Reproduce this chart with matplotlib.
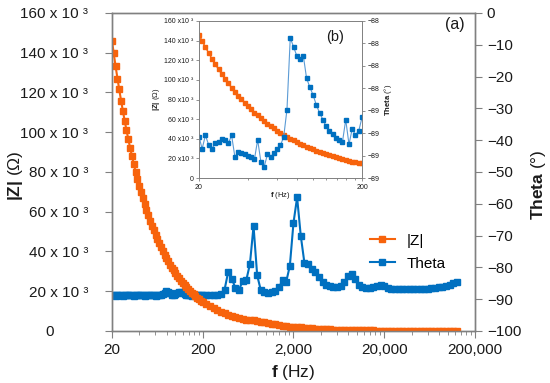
import matplotlib
matplotlib.use('Agg')
import matplotlib.pyplot as plt
from matplotlib.ticker import FixedLocator, LogLocator, FuncFormatter, NullFormatter

plt.rcParams['font.family'] = ['Liberation Sans', 'DejaVu Sans']
plt.rcParams['mathtext.fontset'] = 'custom'
plt.rcParams['mathtext.rm'] = 'Liberation Sans'
plt.rcParams['mathtext.bf'] = 'Liberation Sans:bold'
plt.rcParams['axes.unicode_minus'] = True

ORANGE = '#F7630C'
BLUE = '#0070C0'
GRAY = '#808080'
TXT = '#1A1A1A'

# frequency sweep (Hz)
freq = [20.0, 20.9, 21.9, 23.0, 24.0, 25.2, 26.4, 27.6, 28.9, 30.3,
        31.7, 33.2, 34.8, 36.4, 38.1, 39.9, 41.8, 43.8, 45.8, 48.0,
        50.2, 52.6, 55.1, 57.7, 60.4, 63.2, 66.2, 69.3, 72.6, 76.0,
        79.6, 83.4, 87.3, 91.4, 95.7, 100.2, 105.0, 109.9, 115.1, 120.5,
        126.2, 132.1, 138.4, 144.9, 151.7, 158.9, 166.4, 174.2, 182.4, 191.0,
        200, 219, 240, 264, 289, 317, 348, 381, 418, 458,
        502, 551, 604, 662, 726, 796, 873, 957, 1050, 1151,
        1262, 1384, 1517, 1664, 1824,
        2000, 2193, 2405, 2637, 2891, 3170, 3476, 3811, 4179, 4582,
        5024, 5508, 6040, 6623, 7262, 7962, 8730, 9573, 10496, 11509,
        12619, 13837, 15172, 16635, 18240,
        20000, 21930, 24050, 26370, 28910, 31700, 34760, 38110, 41790, 45820,
        50240, 55080, 60400, 66230, 72620, 79620, 87300, 95730, 104960, 115090, 126190]

# |Z| in kOhm
z_k = [146.0, 139.7, 133.3, 127.0, 121.7, 115.9, 110.6, 105.8, 101.0, 96.4,
       92.1, 88.0, 83.9, 80.2, 76.6, 73.2, 69.9, 66.7, 63.8, 60.8,
       58.2, 55.5, 53.0, 50.6, 48.3, 46.2, 44.1, 42.1, 40.2, 38.4,
       36.7, 35.0, 33.4, 31.9, 30.5, 29.1, 27.8, 26.6, 25.4, 24.2,
       23.1, 22.1, 21.1, 20.2, 19.2, 18.4, 17.5, 16.8, 16.0, 15.3,
       14.8, 13.8, 12.6, 11.6, 10.6, 9.7, 8.9, 8.2, 7.6, 7.0,
       6.5, 6.0, 5.6, 5.3, 5.6, 5.2, 4.7, 4.3, 3.9, 3.6,
       3.3, 3.0, 2.7, 2.4, 2.1,
       2.0, 2.1, 1.9, 1.6, 1.4, 1.3, 1.2, 1.1, 1.0, 0.9,
       0.8, 0.7, 0.65, 0.6, 0.55, 0.5, 0.45, 0.4, 0.37, 0.34,
       0.31, 0.28, 0.26, 0.24, 0.2,
       0.18, 0.17, 0.15, 0.14, 0.13, 0.12, 0.11, 0.1, 0.09, 0.08,
       0.08, 0.07, 0.07, 0.06, 0.06, 0.05, 0.05, 0.04, 0.04, 0.04, 0.03]

# phase angle (degrees)
theta = [-88.8, -88.8, -88.9, -88.8, -88.8, -88.8, -88.9, -88.8, -88.8, -88.8,
         -88.8, -88.8, -88.9, -88.8, -88.8, -88.8, -88.8, -88.8, -88.9, -88.8,
         -88.8, -88.8, -88.8, -88.8, -88.9, -88.8, -88.8, -88.7, -88.4, -87.9,
         -87.4, -87.6, -88.2, -88.6, -88.7, -88.4, -88.0, -87.7, -87.8, -88.2,
         -88.5, -88.8, -88.8, -88.8, -88.9, -88.8, -88.8, -88.8, -88.8, -88.8,
         -88.8, -88.8, -88.8, -88.8, -88.7, -88.4, -87.0, -81.5, -83.5, -86.5,
         -87.0, -84.3, -84.0, -79.0, -67.0, -82.5, -87.2, -87.8, -88.0, -87.8,
         -87.3, -86.3, -84.0, -84.5, -79.5,
         -66.0, -58.0, -70.0, -78.5, -79.0, -80.5, -81.5, -83.0, -84.6, -85.5,
         -86.0, -86.3, -86.3, -86.0, -84.5, -82.8, -82.2, -83.5, -85.5, -86.3,
         -86.6, -86.5, -86.2, -85.8, -85.5,
         -86.0, -86.6, -86.8, -86.9, -86.8, -86.7, -86.8, -86.9, -86.8, -86.8,
         -86.9, -86.8, -86.7, -86.6, -86.5, -86.3, -86.1, -85.8, -85.4, -84.9, -84.5]

# inset (20-200 Hz) phase angle
theta_in = [-88.83, -88.94, -88.82, -88.91, -88.94, -88.89, -88.88, -88.85, -88.86, -88.89,
            -88.82, -89.01, -88.97, -88.98, -88.99, -89.00, -89.01, -89.03, -88.86, -89.06,
            -89.10, -88.99, -89.01, -88.98, -88.94, -88.91, -88.83, -88.59, -87.95, -88.03,
            -88.11, -88.14, -88.11, -88.31, -88.39, -88.46, -88.55, -88.62, -88.68, -88.74,
            -88.78, -88.81, -88.84, -88.86, -88.88, -88.68, -88.90, -88.76, -88.82, -88.78,
            -88.66]
freq_in = freq[:51]
z_in = z_k[:51]

x_ticks = [20, 200, 2000, 20000, 200000]
minor_subs = (1.0, 1.2, 1.4, 1.6, 1.8, 2, 4, 6, 8)


def style_box(a, lw=1.0):
    for s in a.spines.values():
        s.set_color(GRAY)
        s.set_linewidth(lw)


def z_label(v, p):
    if v == 0:
        return '0        '
    return f'{v / 1000:.0f} x 10 ³'


fig = plt.figure(figsize=(5.5, 3.83), dpi=100)

# main chart
ax = fig.add_axes([0.2036, 0.1358, 0.6600, 0.8303])
ax2 = ax.twinx()
ax.set_zorder(ax2.get_zorder() + 1)
ax.patch.set_visible(False)

l1, = ax.plot(freq, [z * 1000 for z in z_k], color=ORANGE, marker='s', ms=4, lw=1.5)
l2, = ax2.plot(freq, theta, color=BLUE, marker='s', ms=4, lw=1.5)

ax.set_xscale('log')
ax.set_xlim(20, 200000)
ax.xaxis.set_major_locator(FixedLocator(x_ticks))
ax.xaxis.set_minor_locator(LogLocator(base=10, subs=minor_subs, numticks=30))
ax.xaxis.set_major_formatter(FuncFormatter(lambda v, p: f'{v:,.0f}'))
ax.xaxis.set_minor_formatter(NullFormatter())

ax.set_ylim(0, 160000)
ax.set_yticks(range(0, 160001, 20000))
ax.yaxis.set_major_formatter(FuncFormatter(z_label))
ax2.set_ylim(-100, 0)
ax2.set_yticks(range(-100, 1, 10))

for a in (ax, ax2):
    style_box(a)
    a.tick_params(which='both', direction='out', color=GRAY, labelcolor=TXT, labelsize=11)
    a.tick_params(which='major', length=5)
    a.tick_params(which='minor', length=3)
ax.tick_params(axis='y', pad=12)

ax.set_xlabel(r'$\mathbf{f}$ (Hz)', fontsize=12.5, color=TXT)
ax.xaxis.set_label_coords(0.5, -0.10)
ax.set_ylabel(r'$\mathbf{|Z|}$ (Ω)', fontsize=12.5, color=TXT)
ax.yaxis.set_label_coords(-0.267, 0.49)
ax.yaxis.label.set_va('center')
ax2.set_ylabel(r'$\mathbf{Theta}$ (°)', fontsize=12.5, color=TXT)
ax2.yaxis.set_label_coords(1.174, 0.46)
ax2.yaxis.label.set_va('center')

fig.legend([l1, l2], ['|Z|', 'Theta'], loc='upper left', bbox_to_anchor=(0.648, 0.426),
           frameon=False, fontsize=11, handlelength=1.6, labelspacing=0.6)
fig.text(445 / 550, 1 - 24 / 383, '(a)', fontsize=11.5, va='center', color=TXT)

# inset
axin = fig.add_axes([0.3618, 0.5352, 0.2964, 0.41])
axin.set_zorder(10)
axin2 = axin.twinx()
axin2.set_zorder(11)
axin2.patch.set_visible(False)

axin.plot(freq_in, [z * 1000 for z in z_in], color=ORANGE, marker='s', ms=2.6, lw=1)
axin2.plot(freq_in, theta_in, color='#5B9BD5', lw=0.8, marker='s', ms=2.2,
           mfc=BLUE, mec=BLUE)

axin.set_xscale('log')
axin.set_xlim(20, 200)
axin.xaxis.set_major_locator(FixedLocator([20, 200]))
axin.xaxis.set_minor_locator(LogLocator(base=10, subs=minor_subs, numticks=30))
axin.xaxis.set_major_formatter(FuncFormatter(lambda v, p: f'{v:,.0f}'))
axin.xaxis.set_minor_formatter(NullFormatter())
axin.set_ylim(0, 160000)
axin.set_yticks(range(0, 160001, 20000))
axin.yaxis.set_major_formatter(FuncFormatter(lambda v, p: '0' if v == 0 else f'{v / 1000:.0f} x10 ³'))
axin2.set_ylim(-89.2, -87.8)
axin2.set_yticks([-89.2, -89.0, -88.8, -88.6, -88.4, -88.2, -88.0, -87.8])
axin2.yaxis.set_major_formatter(FuncFormatter(lambda v, p: f'{v:.0f}'.replace('-', '\u2212')))

for a in (axin, axin2):
    style_box(a, 0.6)
    a.tick_params(which='both', direction='out', color=GRAY, labelcolor=TXT,
                  labelsize=5, width=0.6, pad=1.5)
    a.tick_params(which='major', length=2.5)
    a.tick_params(which='minor', length=1.5)

axin.set_xlabel(r'$\mathbf{f}$ (Hz)', fontsize=5.5, color=TXT)
axin.xaxis.set_label_coords(0.5, -0.075)
axin.set_ylabel(r'$\mathbf{|Z|}$ (Ω)', fontsize=5.5, color=TXT)
axin.yaxis.set_label_coords(-0.258, 0.5)
axin.yaxis.label.set_va('center')
axin2.set_ylabel(r'$\mathbf{Theta}$ (°)', fontsize=5.5, color=TXT)
axin2.yaxis.set_label_coords(1.16, 0.5)
axin2.yaxis.label.set_va('center')
axin2.text(0.78, 0.9, '(b)', transform=axin2.transAxes, fontsize=10.5, va='center', color=TXT)

fig.savefig('out.png', dpi=100)
